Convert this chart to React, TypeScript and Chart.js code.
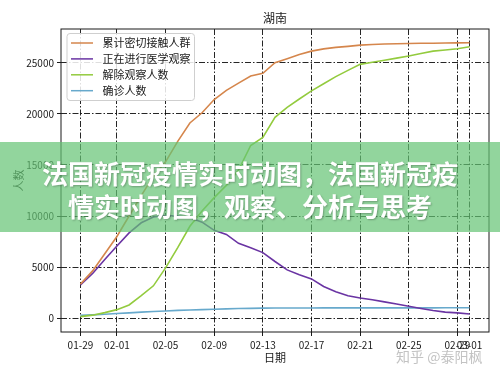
import React, { useEffect, useRef } from 'react';
import { Chart, registerables } from 'chart.js';

Chart.register(...registerables);

const FONT = '"Noto Sans CJK SC", "Noto Sans", sans-serif';

const chartTitle = '湖南';
const xAxisLabel = '日期';
const yAxisLabel = '人数';

const dates = [
  '01-29', '01-30', '01-31',
  '02-01', '02-02', '02-03', '02-04', '02-05', '02-06', '02-07', '02-08', '02-09', '02-10',
  '02-11', '02-12', '02-13', '02-14', '02-15', '02-16', '02-17', '02-18', '02-19', '02-20',
  '02-21', '02-22', '02-23', '02-24', '02-25', '02-26', '02-27', '02-28', '02-29', '03-01',
];

const xTickDates = ['01-29', '02-01', '02-05', '02-09', '02-13', '02-17', '02-21', '02-25', '02-29', '03-01'];
const yTickValues = [0, 5000, 10000, 15000, 20000, 25000];

const seriesNames = ['累计密切接触人群', '正在进行医学观察', '解除观察人数', '确诊人数'];

const contacts = [
  3340, 4630, 6300, 8000, 10000, 12000, 13900, 15300, 17300, 19100, 20100,
  21400, 22300, 23000, 23700, 23960, 25000, 25390, 25800, 26130, 26350, 26500,
  26600, 26720, 26780, 26830, 26860, 26880, 26900, 26910, 26930, 26940, 26950,
];

const underObservation = [
  3270, 4380, 5750, 7060, 8350, 9340, 9900, 10050, 10000, 9850, 9400,
  8600, 8200, 7330, 6900, 6420, 5550, 4730, 4250, 3850, 3100, 2600,
  2200, 1980, 1800, 1600, 1400, 1170, 950, 750, 600, 520, 420,
];

const released = [
  160, 300, 550, 840, 1300, 2200, 3170, 4920, 6900, 9000, 10500,
  11800, 13000, 14500, 16900, 17700, 19650, 20630, 21450, 22240, 22940, 23640,
  24250, 24840, 25040, 25240, 25450, 25650, 25900, 26130, 26250, 26370, 26560,
];

const confirmed = [
  277, 332, 389, 463, 521, 593, 661, 711, 772, 803, 838,
  879, 912, 946, 968, 988, 1001, 1004, 1006, 1007, 1008, 1010,
  1011, 1013, 1016, 1016, 1016, 1016, 1017, 1017, 1018, 1018, 1018,
];

const seriesValues = [contacts, underObservation, released, confirmed];
const seriesColors = ['#d5864c', '#6a34a3', '#93cb3e', '#67a9cc'];

const bannerLine1 = '法国新冠疫情实时动图，法国新冠疫';
const bannerLine2 = '情实时动图，观察、分析与思考';
const watermark = '知乎 @泰阳枫';

const framePlugin = {
  id: 'frameAndLabels',
  afterDraw(chart: any) {
    const { ctx, chartArea: a } = chart;
    ctx.save();
    ctx.strokeStyle = '#1a1a1a';
    ctx.lineWidth = 1;
    ctx.strokeRect(a.left, a.top, a.right - a.left, a.bottom - a.top);

    ctx.fillStyle = '#1a1a1a';
    ctx.textAlign = 'center';
    ctx.textBaseline = 'middle';
    ctx.font = `12px ${FONT}`;
    ctx.fillText(chartTitle, (a.left + a.right) / 2, 18);
    ctx.font = `11px ${FONT}`;
    ctx.fillText(xAxisLabel, (a.left + a.right) / 2, 358);
    ctx.translate(19, (a.top + a.bottom) / 2);
    ctx.rotate(-Math.PI / 2);
    ctx.fillText(yAxisLabel, 0, 0);
    ctx.restore();

    // legend (inside, upper left)
    ctx.save();
    ctx.font = `11px ${FONT}`;
    const bx = a.left + 6;
    const by = a.top + 4.5;
    const textX = a.left + 41.5;
    let maxW = 0;
    chart.data.datasets.forEach((d: any) => {
      maxW = Math.max(maxW, ctx.measureText(d.label).width);
    });
    const bw = textX - bx + maxW + 4;
    const bh = 67;
    ctx.beginPath();
    const r = 3;
    ctx.moveTo(bx + r, by);
    ctx.lineTo(bx + bw - r, by);
    ctx.quadraticCurveTo(bx + bw, by, bx + bw, by + r);
    ctx.lineTo(bx + bw, by + bh - r);
    ctx.quadraticCurveTo(bx + bw, by + bh, bx + bw - r, by + bh);
    ctx.lineTo(bx + r, by + bh);
    ctx.quadraticCurveTo(bx, by + bh, bx, by + bh - r);
    ctx.lineTo(bx, by + r);
    ctx.quadraticCurveTo(bx, by, bx + r, by);
    ctx.closePath();
    ctx.fillStyle = 'rgba(255,255,255,0.85)';
    ctx.fill();
    ctx.strokeStyle = '#cfcfcf';
    ctx.lineWidth = 1;
    ctx.stroke();
    chart.data.datasets.forEach((d: any, i: number) => {
      const y = a.top + 14 + i * 15.9;
      ctx.strokeStyle = d.borderColor;
      ctx.lineWidth = 1.5;
      ctx.beginPath();
      ctx.moveTo(a.left + 10, y);
      ctx.lineTo(a.left + 32, y);
      ctx.stroke();
      ctx.fillStyle = '#1a1a1a';
      ctx.textAlign = 'left';
      ctx.textBaseline = 'middle';
      ctx.fillText(d.label, textX, y);
    });
    ctx.restore();
  },
};

export default function App() {
  const canvasRef = useRef<HTMLCanvasElement | null>(null);

  useEffect(() => {
    const canvas = canvasRef.current;
    if (!canvas) return;
    Chart.defaults.font.family = FONT;
    Chart.defaults.color = '#1a1a1a';

    const maxVal = Math.max(...seriesValues.flat());
    const yMin = -0.05 * maxVal;
    const yMax = maxVal * 1.05;
    const n = dates.length - 1;

    const gridCommon = {
      color: 'rgba(0,0,0,0.85)',
      lineWidth: 1,
      drawOnChartArea: true,
      drawTicks: true,
      tickLength: 4,
      tickColor: '#1a1a1a',
      tickWidth: 1,
    };

    const chart = new Chart(canvas, {
      type: 'line',
      data: {
        datasets: seriesNames.map((name, i) => ({
          label: name,
          data: seriesValues[i].map((v, j) => ({ x: j, y: v })),
          borderColor: seriesColors[i],
          backgroundColor: seriesColors[i],
          borderWidth: 1.6,
          pointRadius: 0,
          tension: 0,
          fill: false,
        })),
      },
      options: {
        responsive: false,
        animation: false,
        events: [],
        layout: { padding: { left: 0, top: 29, right: 11, bottom: 13 } },
        plugins: {
          legend: { display: false },
          tooltip: { enabled: false },
          title: { display: false },
        },
        scales: {
          x: {
            type: 'linear',
            min: -0.05 * n,
            max: n * 1.05,
            afterBuildTicks: (scale: any) => {
              scale.ticks = xTickDates.map((d) => ({ value: dates.indexOf(d) }));
            },
            afterFit: (scale: any) => {
              scale.height = 30;
            },
            ticks: {
              autoSkip: false,
              maxRotation: 0,
              minRotation: 0,
              padding: 3,
              font: { size: 10, family: FONT },
              color: '#1a1a1a',
              callback: (value: any) => dates[Math.round(Number(value))] ?? '',
            },
            grid: gridCommon,
            border: { display: false, dash: [6, 2, 1.5, 2] },
          },
          y: {
            type: 'linear',
            min: yMin,
            max: yMax,
            afterBuildTicks: (scale: any) => {
              scale.ticks = yTickValues.map((v) => ({ value: v }));
            },
            afterFit: (scale: any) => {
              scale.width = 61;
            },
            ticks: {
              padding: 3,
              font: { size: 10, family: FONT },
              color: '#1a1a1a',
              callback: (value: any) => String(value),
            },
            grid: gridCommon,
            border: { display: false, dash: [6, 2, 1.5, 2] },
          },
        },
      },
      plugins: [framePlugin],
    } as any);

    return () => chart.destroy();
  }, []);

  return (
    <div style={{ position: 'fixed', left: 0, top: 0, width: 500, height: 375, background: '#fff', overflow: 'hidden' }}>
      <canvas ref={canvasRef} width={500} height={375} style={{ display: 'block' }} />
      <div
        style={{
          position: 'absolute',
          left: 0,
          top: 142,
          width: 500,
          height: 90,
          background: 'rgba(100,195,115,0.7)',
          boxSizing: 'border-box',
          paddingTop: 14,
          textAlign: 'center',
          color: '#ffffff',
          fontFamily: FONT,
          fontWeight: 700,
          fontSize: 26,
          lineHeight: '33px',
          whiteSpace: 'nowrap',
          textShadow: '1px 1px 2px rgba(0,0,0,0.25)',
        }}
      >
        {bannerLine1}
        <br />
        {bannerLine2}
      </div>
      <div
        style={{
          position: 'absolute',
          left: 396,
          top: 346,
          fontFamily: FONT,
          fontSize: 14,
          color: 'rgba(185,185,185,0.85)',
          whiteSpace: 'nowrap',
          lineHeight: '20px',
        }}
      >
        {watermark}
      </div>
    </div>
  );
}
